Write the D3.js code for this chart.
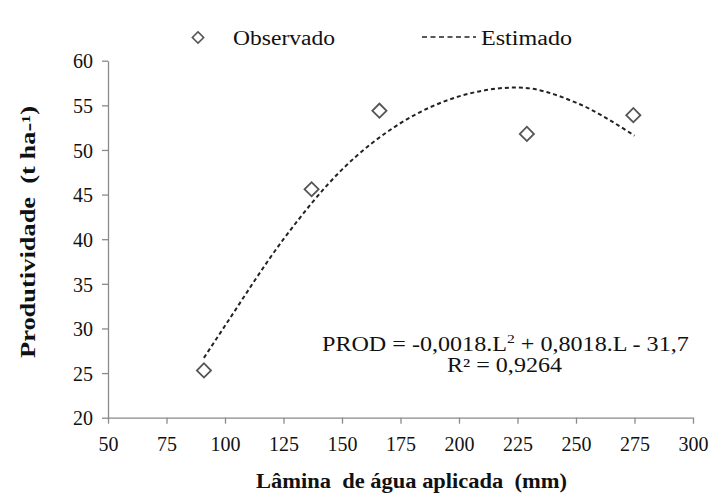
<!DOCTYPE html>
<html><head><meta charset="utf-8">
<script src="https://cdn.jsdelivr.net/npm/d3@7/dist/d3.min.js"></script>
<style>body{margin:0;background:#fff}svg{display:block}</style>
</head><body><svg id="c" width="716" height="498"></svg>
<script>
const obsX = [91, 137, 166, 229, 274.5];
const obsY = [25.3, 45.6, 54.4, 51.8, 53.9];
const estX = [91, 100, 125, 150, 175, 200, 225, 250, 275];
const estY = [26.7, 30.3, 40.0, 47.8, 53.0, 56.0, 57.0, 55.3, 51.6];
const xTicks = [50, 75, 100, 125, 150, 175, 200, 225, 250, 275, 300];
const yTicks = [20, 25, 30, 35, 40, 45, 50, 55, 60];

const FONT = "'Liberation Serif', Tinos, 'Times New Roman', Times, serif";
const FS = 20;
const svg = d3.select("#c");
const T = svg.append("g").attr("font-family", FONT).attr("font-size", FS).attr("fill", "#111");
const x = d3.scaleLinear().domain([50, 300]).range([108, 693]);
const y = d3.scaleLinear().domain([20, 60]).range([417.7, 60.7]);
const axisCol = "#8a8a8a";

const gx = T.append("g").attr("transform", `translate(0,${y(20)})`)
  .call(d3.axisBottom(x).tickValues(xTicks).tickSize(6).tickSizeOuter(0).tickPadding(8));
const gy = T.append("g").attr("transform", `translate(${x(50)},0)`)
  .call(d3.axisLeft(y).tickValues(yTicks).tickSize(6).tickSizeOuter(0).tickPadding(9));
[gx, gy].forEach(g => {
  g.attr("font-family", FONT).attr("font-size", FS);
  g.selectAll("path,line").attr("stroke", axisCol).attr("stroke-width", 1.3);
  g.selectAll("text").attr("font-family", FONT).attr("font-size", FS).attr("fill", "#111");
});
gx.selectAll("text").attr("dy", "0.95em");
gy.selectAll("text").attr("dy", "0.36em");

// estimated curve
const line = d3.line().x((d, i) => x(estX[i])).y((d, i) => y(estY[i])).curve(d3.curveMonotoneX);
svg.append("path").datum(estY).attr("d", line).attr("fill", "none")
  .attr("stroke", "#222").attr("stroke-width", 2).attr("stroke-dasharray", "4,3");

// observed diamonds
const diamond = d3.symbol().type(d3.symbolSquare).size(100);
svg.selectAll(".obs").data(obsY).join("path").attr("class", "obs")
  .attr("d", diamond())
  .attr("transform", (d, i) => `translate(${x(obsX[i])},${y(d)}) rotate(45)`)
  .attr("fill", "#fff").attr("stroke", "#555").attr("stroke-width", 1.8);

// legend
svg.append("path").attr("d", d3.symbol().type(d3.symbolSquare).size(64)())
  .attr("transform", "translate(198,37.5) rotate(45)")
  .attr("fill", "#fff").attr("stroke", "#555").attr("stroke-width", 1.6);
T.append("text").attr("x", 233).attr("y", 45).attr("textLength", 102).attr("lengthAdjust", "spacingAndGlyphs").text("Observado");
svg.append("line").attr("x1", 422).attr("x2", 476).attr("y1", 37).attr("y2", 37)
  .attr("stroke", "#222").attr("stroke-width", 1.6).attr("stroke-dasharray", "5,3.5");
T.append("text").attr("x", 481).attr("y", 45).attr("textLength", 91).attr("lengthAdjust", "spacingAndGlyphs").text("Estimado");

// equation
const eq = T.append("text").attr("x", 322).attr("y", 351);
eq.append("tspan").text("PROD = -0,0018.L");
eq.append("tspan").attr("font-size", 13).attr("dy", -8).text("2");
eq.append("tspan").attr("dy", 8).text(" + 0,8018.L - 31,7");
const bb = eq.node().getBBox();
eq.attr("transform", `translate(322,0) scale(${367 / bb.width},1) translate(-322,0)`);
T.append("text").attr("x", 447).attr("y", 372).attr("textLength", 115).attr("lengthAdjust", "spacingAndGlyphs").text("R² = 0,9264");

// axis titles
T.append("text").attr("x", 256).attr("y", 488).attr("textLength", 311).attr("lengthAdjust", "spacingAndGlyphs")
  .attr("font-weight", "bold").style("white-space", "pre")
  .text("Lâmina  de água aplicada  (mm)");
T.append("text").attr("transform", "translate(35,232) rotate(-90)").attr("text-anchor", "middle")
  .attr("textLength", 252).attr("lengthAdjust", "spacingAndGlyphs")
  .attr("font-weight", "bold").style("white-space", "pre")
  .text("Produtividade  (t ha-¹)");
</script></body></html>
